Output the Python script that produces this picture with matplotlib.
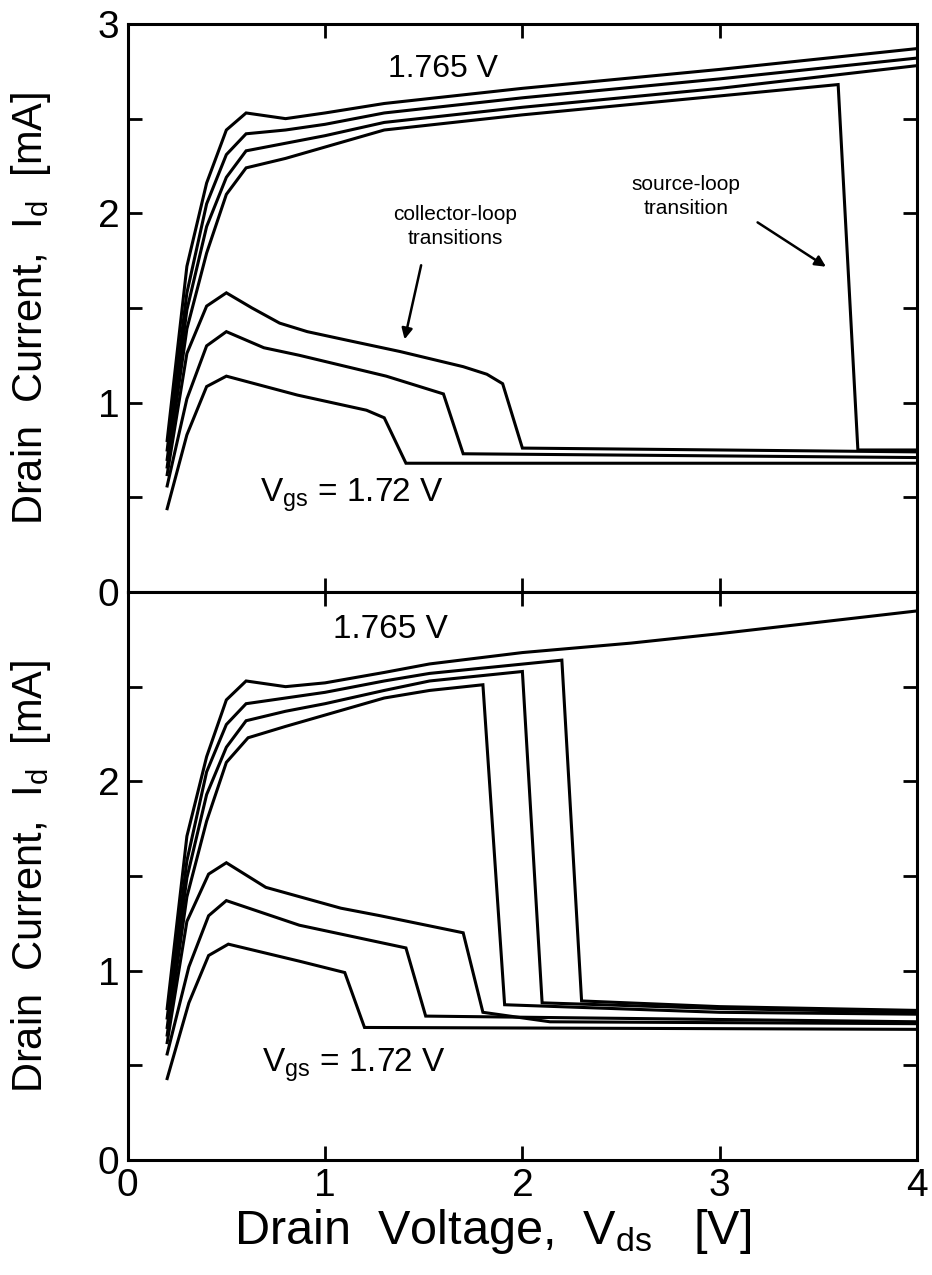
import matplotlib
matplotlib.use('Agg')
import matplotlib.pyplot as plt
from matplotlib.ticker import MultipleLocator

plt.rcParams['font.family'] = ['Liberation Sans', 'DejaVu Sans']
plt.rcParams['mathtext.fontset'] = 'custom'
plt.rcParams['mathtext.rm'] = 'Liberation Sans'
plt.rcParams['mathtext.it'] = 'Liberation Sans'

# ---- top panel (Vds, Id) ----
vds_top_a = [0.2, 0.3, 0.4, 0.5, 0.6, 0.8, 1.0, 1.3, 2.0, 3.0, 4.0]
id_top_a = [0.80, 1.72, 2.16, 2.44, 2.53, 2.50, 2.53, 2.58, 2.66, 2.76, 2.87]
vds_top_b = [0.2, 0.3, 0.4, 0.5, 0.6, 0.8, 1.0, 1.3, 2.0, 3.0, 4.0]
id_top_b = [0.75, 1.58, 2.05, 2.31, 2.42, 2.44, 2.47, 2.53, 2.61, 2.71, 2.82]
vds_top_c = [0.2, 0.3, 0.4, 0.5, 0.6, 0.8, 1.0, 1.3, 2.0, 3.0, 4.0]
id_top_c = [0.70, 1.49, 1.93, 2.19, 2.33, 2.37, 2.41, 2.48, 2.56, 2.66, 2.78]
vds_top_d = [0.2, 0.3, 0.4, 0.5, 0.6, 0.8, 1.0, 1.3, 2.0, 3.0, 3.6, 3.7, 4.0]
id_top_d = [0.66, 1.39, 1.79, 2.10, 2.24, 2.29, 2.35, 2.44, 2.52, 2.62, 2.68, 0.75, 0.75]
vds_top_e = [0.2, 0.3, 0.4, 0.5, 0.63, 0.77, 0.91, 1.11, 1.38, 1.7, 1.82, 1.9, 2.0, 4.0]
id_top_e = [0.62, 1.26, 1.51, 1.58, 1.50, 1.42, 1.375, 1.33, 1.27, 1.19, 1.15, 1.10, 0.76, 0.74]
vds_top_f = [0.2, 0.3, 0.4, 0.5, 0.69, 0.87, 1.31, 1.6, 1.7, 4.0]
id_top_f = [0.56, 1.02, 1.30, 1.375, 1.29, 1.25, 1.14, 1.046, 0.73, 0.71]
vds_top_g = [0.2, 0.3, 0.4, 0.5, 0.86, 1.21, 1.30, 1.41, 4.0]
id_top_g = [0.44, 0.83, 1.085, 1.14, 1.04, 0.96, 0.92, 0.68, 0.68]

# ---- bottom panel ----
vds_bot_a = [0.2, 0.3, 0.4, 0.5, 0.6, 0.8, 1.0, 1.3, 1.53, 2.0, 2.55, 3.0, 4.0]
id_bot_a = [0.80, 1.71, 2.13, 2.43, 2.53, 2.50, 2.52, 2.575, 2.62, 2.68, 2.73, 2.78, 2.90]
vds_bot_b = [0.2, 0.3, 0.4, 0.5, 0.6, 0.8, 1.0, 1.3, 1.53, 2.2, 2.3, 3.0, 4.0]
id_bot_b = [0.75, 1.58, 2.05, 2.30, 2.41, 2.44, 2.47, 2.53, 2.57, 2.64, 0.84, 0.81, 0.79]
vds_bot_c = [0.2, 0.3, 0.4, 0.5, 0.6, 0.8, 1.0, 1.3, 1.53, 2.0, 2.1, 3.0, 4.0]
id_bot_c = [0.70, 1.49, 1.93, 2.18, 2.32, 2.37, 2.41, 2.48, 2.53, 2.58, 0.83, 0.80, 0.78]
vds_bot_d = [0.2, 0.3, 0.4, 0.5, 0.61, 0.8, 1.0, 1.3, 1.53, 1.8, 1.91, 3.0, 4.0]
id_bot_d = [0.66, 1.39, 1.79, 2.10, 2.23, 2.29, 2.35, 2.44, 2.48, 2.51, 0.82, 0.78, 0.77]
vds_bot_e = [0.2, 0.3, 0.41, 0.5, 0.7, 1.08, 1.28, 1.7, 1.8, 2.14, 4.0]
id_bot_e = [0.62, 1.26, 1.51, 1.57, 1.44, 1.33, 1.29, 1.20, 0.78, 0.73, 0.72]
vds_bot_f = [0.2, 0.31, 0.41, 0.5, 0.87, 1.41, 1.51, 4.0]
id_bot_f = [0.56, 1.02, 1.29, 1.37, 1.24, 1.12, 0.76, 0.73]
vds_bot_g = [0.2, 0.31, 0.41, 0.51, 0.87, 1.10, 1.20, 4.0]
id_bot_g = [0.43, 0.83, 1.08, 1.14, 1.05, 0.99, 0.70, 0.69]

top_curves = [(vds_top_a, id_top_a), (vds_top_b, id_top_b), (vds_top_c, id_top_c),
              (vds_top_d, id_top_d), (vds_top_e, id_top_e), (vds_top_f, id_top_f),
              (vds_top_g, id_top_g)]
bot_curves = [(vds_bot_a, id_bot_a), (vds_bot_b, id_bot_b), (vds_bot_c, id_bot_c),
              (vds_bot_d, id_bot_d), (vds_bot_e, id_bot_e), (vds_bot_f, id_bot_f),
              (vds_bot_g, id_bot_g)]

fig = plt.figure(figsize=(9.32, 12.75), dpi=100)
ax1 = fig.add_axes([0.137, 0.5357, 0.847, 0.4455])
ax2 = fig.add_axes([0.137, 0.0902, 0.847, 0.4455])

ylabel = 'Drain  Current,  $\\mathregular{I_d}$  [mA]'
for ax, curves in [(ax1, top_curves), (ax2, bot_curves)]:
    for x, y in curves:
        ax.plot(x, y, color='black', lw=2.2, solid_joinstyle='miter')
    ax.set_xlim(0, 4)
    ax.set_ylim(0, 3)
    ax.xaxis.set_major_locator(MultipleLocator(1))
    ax.yaxis.set_major_locator(MultipleLocator(0.5))
    ax.tick_params(direction='in', length=10, width=2, top=True, right=True,
                   labelsize=28, pad=6)
    for s in ax.spines.values():
        s.set_linewidth(2.2)
    ax.set_ylabel(ylabel, fontsize=30)
    ax.yaxis.set_label_coords(-0.095, 0.5)

ax1.set_yticks([0, 0.5, 1, 1.5, 2, 2.5, 3])
ax1.set_yticklabels(['0', '', '1', '', '2', '', '3'])
ax1.tick_params(labelbottom=False)
ax2.set_yticks([0, 0.5, 1, 1.5, 2, 2.5, 3])
ax2.set_yticklabels(['0', '', '1', '', '2', '', ''])
ax2.set_xlabel('Drain  Voltage,  $\\mathregular{V_{ds}}$   [V]', fontsize=35)
ax2.xaxis.set_label_coords(0.462, -0.082)

# annotations
ax1.text(1.6, 2.76, '1.765 V', fontsize=23, ha='center', va='center')
ax1.text(0.67, 0.51, '$\\mathregular{V_{gs}}$ = 1.72 V', fontsize=24, ha='left', va='center')
ax1.text(1.66, 1.93, 'collector-loop\ntransitions', fontsize=15, ha='center', va='center',
         linespacing=1.3)
ax1.annotate('', xy=(1.40, 1.32), xytext=(1.49, 1.74),
             arrowprops=dict(arrowstyle='-|>', color='black', lw=1.8, mutation_scale=16))
ax1.text(2.83, 2.09, 'source-loop\ntransition', fontsize=15, ha='center', va='center',
         linespacing=1.3)
ax1.annotate('', xy=(3.55, 1.71), xytext=(3.18, 1.96),
             arrowprops=dict(arrowstyle='-|>', color='black', lw=1.8, mutation_scale=16))

ax2.text(1.33, 2.8, '1.765 V', fontsize=24, ha='center', va='center')
ax2.text(0.68, 0.50, '$\\mathregular{V_{gs}}$ = 1.72 V', fontsize=24, ha='left', va='center')

plt.savefig('out.png', dpi=100)
